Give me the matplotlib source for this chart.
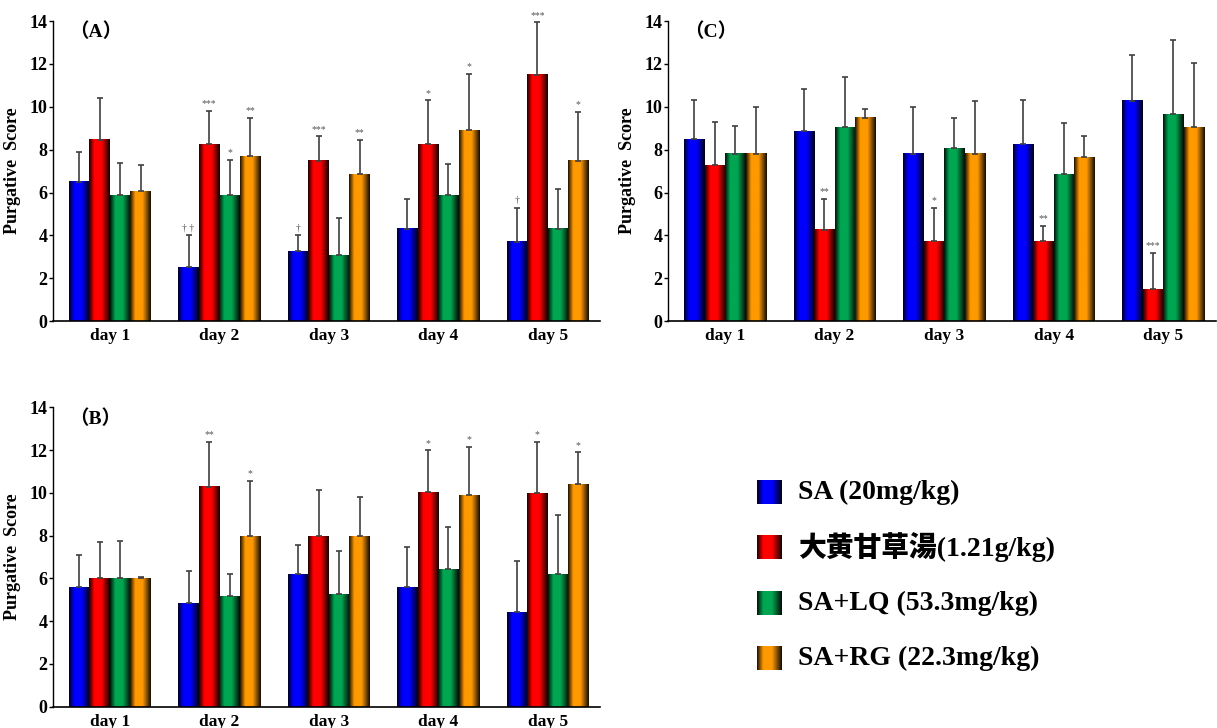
import numpy as np
import matplotlib.pyplot as plt
import matplotlib.colors as mcolors

plt.rcParams['font.family'] = ['Liberation Serif', 'Noto Sans CJK JP']
plt.rcParams['font.weight'] = 'bold'

days = ["day 1", "day 2", "day 3", "day 4", "day 5"]
groups = ["SA (20mg/kg)", "大黄甘草湯(1.21g/kg)", "SA+LQ (53.3mg/kg)", "SA+RG (22.3mg/kg)"]
colors = ['#0000FF', '#FF0000', '#00A651', '#FF9900']

# panel A
a_mean = [[6.5, 2.5, 3.25, 4.3, 3.7],
          [8.45, 8.25, 7.47, 8.25, 11.5],
          [5.87, 5.87, 3.08, 5.88, 4.3],
          [6.05, 7.7, 6.86, 8.9, 7.47]]
a_sd = [[1.4, 1.5, 0.75, 1.4, 1.6],
        [1.95, 1.55, 1.15, 2.05, 2.45],
        [1.5, 1.65, 1.75, 1.45, 1.85],
        [1.25, 1.8, 1.6, 2.65, 2.3]]
a_sig = [["", "† †", "†", "", "†"],
         ["", "***", "***", "*", "***"],
         ["", "*", "", "", ""],
         ["", "**", "**", "*", "*"]]

# panel B
b_mean = [[5.58, 4.83, 6.2, 5.6, 4.43],
          [6.0, 10.3, 8.0, 10.04, 9.98],
          [6.0, 5.16, 5.27, 6.44, 6.2],
          [6.0, 7.98, 8.0, 9.9, 10.4]]
b_sd = [[1.5, 1.5, 1.35, 1.85, 2.4],
        [1.7, 2.1, 2.15, 1.95, 2.4],
        [1.75, 1.05, 2.0, 1.95, 2.75],
        [0.08, 2.6, 1.8, 2.25, 1.5]]
b_sig = [["", "", "", "", ""],
         ["", "**", "", "*", "*"],
         ["", "", "", "", ""],
         ["", "*", "", "*", "*"]]

# panel C
c_mean = [[8.48, 8.85, 7.82, 8.26, 10.27],
          [7.28, 4.25, 3.73, 3.73, 1.48],
          [7.82, 9.05, 8.07, 6.86, 9.66],
          [7.82, 9.5, 7.82, 7.65, 9.05]]
c_sd = [[1.85, 2.0, 2.15, 2.05, 2.15],
        [2.0, 1.45, 1.55, 0.7, 1.7],
        [1.3, 2.35, 1.4, 2.4, 3.45],
        [2.15, 0.4, 2.45, 1.0, 3.0]]
c_sig = [["", "", "", "", ""],
         ["", "**", "*", "**", "***"],
         ["", "", "", "", ""],
         ["", "", "", "", ""]]

W = 0.1875


def gradient(color, n=64):
    rgb = np.array(mcolors.to_rgb(color))
    prof = np.interp(np.linspace(0, 1, n), [0, 0.25, 0.6, 1], [0.12, 1, 1, 0.08])
    return (prof[:, None] * rgb[None, :])[None, :, :]


def panel(ax, means, sds, sigs, label):
    x = np.arange(len(days))
    for k in range(4):
        xk = x + (k - 1.5) * W
        bars = ax.bar(xk, means[k], width=W, color='none', edgecolor='none')
        img = gradient(colors[k])
        for b in bars:
            ax.imshow(img, extent=(b.get_x(), b.get_x() + b.get_width(), 0, b.get_height()),
                      aspect='auto', interpolation='bilinear', zorder=2)
        ax.errorbar(xk, means[k], yerr=[np.zeros(len(days)), sds[k]], fmt='none',
                    ecolor='#404040', elinewidth=1.2, capsize=2.5, capthick=1.2, zorder=3)
        for xi, m, s, t in zip(xk, means[k], sds[k], sigs[k]):
            if t:
                ax.text(xi, m + s + 0.12, t, ha='center', va='bottom', fontsize=7,
                        color='#555555', fontweight='normal')
    ax.set_xlim(-0.52, 4.48)
    ax.set_ylim(0, 14)
    ax.set_yticks(range(0, 15, 2))
    ax.set_xticks(x)
    ax.set_xticklabels(days, fontsize=12.5, fontweight='bold')
    ax.tick_params(axis='x', length=0, pad=5)
    ax.tick_params(axis='y', length=3, width=1, labelsize=13, pad=1)
    for t in ax.get_yticklabels():
        t.set_fontweight('bold')
    ax.spines['top'].set_visible(False)
    ax.spines['right'].set_visible(False)
    ax.spines['left'].set_linewidth(1)
    ax.spines['bottom'].set_linewidth(1.2)
    ax.set_ylabel("Purgative  Score", fontsize=13, fontweight='bold', labelpad=6)
    ax.text(0.03, 0.995, label, transform=ax.transAxes, fontsize=14, fontweight='bold',
            ha='left', va='top')


fig = plt.figure(figsize=(12.17, 7.28), dpi=100)
axA = fig.add_axes([0.0436, 0.559, 0.4495, 0.412])
axC = fig.add_axes([0.549, 0.559, 0.450, 0.412])
axB = fig.add_axes([0.0436, 0.0293, 0.4495, 0.411])
panel(axA, a_mean, a_sd, a_sig, "（A）")
panel(axB, b_mean, b_sd, b_sig, "（B）")
panel(axC, c_mean, c_sd, c_sig, "（C）")

# legend
lg = fig.add_axes([0, 0, 1, 1])
lg.axis('off')
for k, (name, col) in enumerate(zip(groups, colors)):
    yc = 492 + k * 55.5
    lg.imshow(gradient(col), extent=(757, 782, yc + 12, yc - 12), aspect='auto',
              interpolation='bilinear')
    lg.text(798, yc, name, fontsize=20, fontweight='heavy', va='center', ha='left')
lg.set_xlim(0, 1217)
lg.set_ylim(728, 0)

fig.savefig("out.png", dpi=100)
